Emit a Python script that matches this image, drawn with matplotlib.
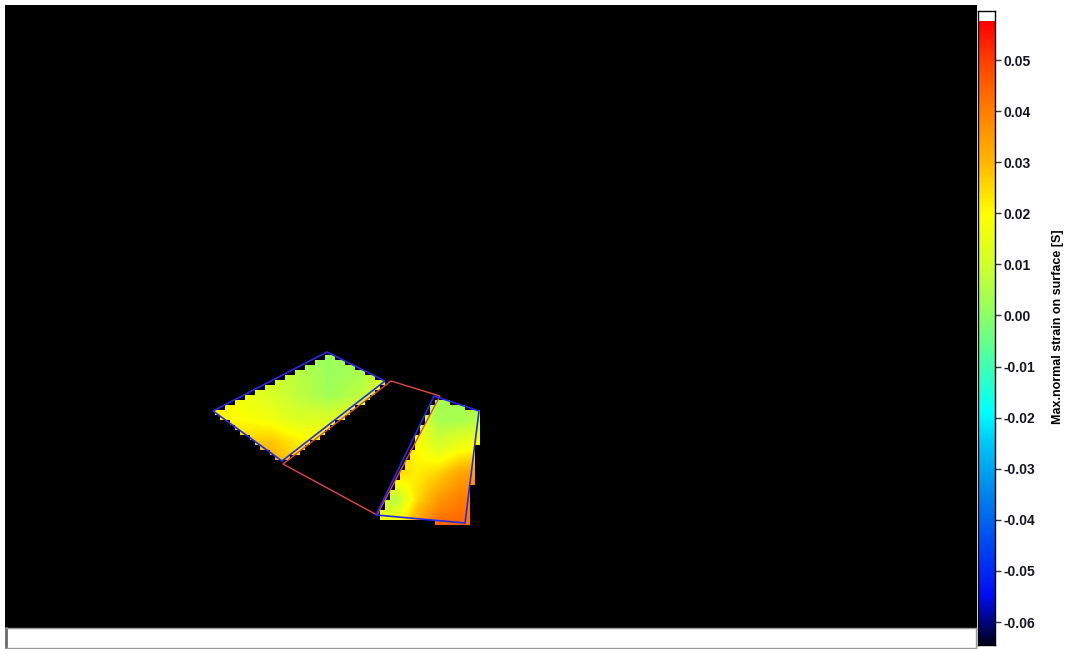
import numpy as np
import matplotlib
matplotlib.use("Agg")
import matplotlib.pyplot as plt
from matplotlib.colors import LinearSegmentedColormap, Normalize
from matplotlib.path import Path
from matplotlib.patches import Polygon

plt.rcParams['font.family'] = ['Liberation Sans', 'DejaVu Sans']

W, H = 1066, 649

# strain scale of the colour bar
vmin, vmax = -0.0645, 0.0576
bar_top = 0.0596
tick_values = [0.05, 0.04, 0.03, 0.02, 0.01, 0.00, -0.01, -0.02, -0.03, -0.04, -0.05, -0.06]
bar_label = "Max.normal strain on surface [S]"

# plate outlines (screen units, y downwards)
plate1 = [(213, 411), (327, 352), (385, 381), (282, 461)]
plate2 = [(434, 396), (479, 411), (465, 523), (376, 515)]
gap = [(283, 464), (391, 381), (440, 396), (377, 515)]

# strain sampled on plate 1, rows top -> bottom
p1_x = [210, 240, 270, 300, 330, 360, 390]
p1_y = [350, 373, 396, 419, 442, 465]
p1_strain = [
    [0.015, 0.010, 0.006, 0.003, 0.002, 0.004, 0.008],
    [0.018, 0.014, 0.010, 0.006, 0.002, 0.004, 0.012],
    [0.020, 0.017, 0.012, 0.007, 0.003, 0.007, 0.016],
    [0.022, 0.020, 0.017, 0.012, 0.012, 0.017, 0.020],
    [0.025, 0.026, 0.028, 0.022, 0.020, 0.020, 0.020],
    [0.028, 0.030, 0.033, 0.025, 0.020, 0.020, 0.020],
]

# strain sampled on plate 2
p2_x = [375, 396, 417, 438, 459, 480]
p2_y = [395, 421, 447, 473, 499, 525]
p2_strain = [
    [0.010, 0.008, 0.006, 0.004, 0.003, 0.004],
    [0.020, 0.020, 0.015, 0.004, 0.004, 0.007],
    [0.025, 0.025, 0.020, 0.012, 0.017, 0.020],
    [0.020, 0.026, 0.022, 0.026, 0.033, 0.035],
    [0.010, 0.006, 0.025, 0.035, 0.040, 0.040],
    [0.018, 0.020, 0.035, 0.044, 0.044, 0.040],
]

# colour map anchors (strain value, rgb)
anchors = [
    (-0.0645, (0.00, 0.00, 0.12)),
    (-0.055, (0.00, 0.05, 0.95)),
    (-0.045, (0.00, 0.28, 0.95)),
    (-0.035, (0.00, 0.52, 0.92)),
    (-0.025, (0.00, 0.78, 0.97)),
    (-0.019, (0.00, 1.00, 1.00)),
    (-0.010, (0.25, 1.00, 0.70)),
    (0.000, (0.55, 1.00, 0.40)),
    (0.010, (0.82, 1.00, 0.18)),
    (0.020, (1.00, 1.00, 0.00)),
    (0.030, (1.00, 0.72, 0.00)),
    (0.040, (1.00, 0.50, 0.00)),
    (0.050, (1.00, 0.25, 0.00)),
    (0.0576, (1.00, 0.00, 0.00)),
]
cmap = LinearSegmentedColormap.from_list(
    "strain", [((v - vmin) / (vmax - vmin), c) for v, c in anchors])
norm = Normalize(vmin, vmax)

fig = plt.figure(figsize=(W / 100, H / 100), dpi=100)
fig.patch.set_facecolor("white")

ax = fig.add_axes([5 / W, (H - 628) / H, 972 / W, 623 / H])
ax.set_facecolor("black")
ax.set_xticks([])
ax.set_yticks([])
for s in ax.spines.values():
    s.set_visible(False)


def draw_field(xs, ys, vals, outline):
    xs = np.array(xs, float)
    ys = np.array(ys, float)
    dx = xs[1] - xs[0]
    dy = ys[1] - ys[0]
    im = ax.imshow(np.array(vals), cmap=cmap, norm=norm, origin="upper",
                   interpolation="bilinear", aspect="auto", zorder=1,
                   extent=(xs[0] - dx / 2, xs[-1] + dx / 2, ys[-1] + dy / 2, ys[0] - dy / 2))
    # clip a little outside the outline so the cell steps can poke through
    pts = np.array(outline, float)
    c = pts.mean(axis=0)
    clip = Polygon(c + (pts - c) * 1.25, closed=True, transform=ax.transData)
    im.set_clip_path(clip)


draw_field(p1_x, p1_y, p1_strain, plate1)
draw_field(p2_x, p2_y, p2_strain, plate2)

# coarse screen cells: keep a cell when its top-left corner lies inside a plate
cell = 5
gx = np.arange(0, 980, cell)
gy = np.arange(0, 630, cell)
X, Y = np.meshgrid(gx, gy)
inside = np.zeros(X.shape, bool)
for poly in (plate1, plate2):
    p = Path(poly)
    inside |= p.contains_points(np.c_[X.ravel(), Y.ravel()]).reshape(X.shape)
mask = np.zeros(X.shape + (4,))
mask[..., 3] = (~inside).astype(float)
ax.imshow(mask, origin="upper", interpolation="nearest", aspect="auto", zorder=2,
          extent=(0, gx[-1] + cell, gy[-1] + cell, 0))

ax.add_patch(Polygon(gap, closed=True, fill=False, edgecolor="#e04848", lw=1.0, zorder=3))
ax.add_patch(Polygon(plate1, closed=True, fill=False, edgecolor="#2a2ae6", lw=1.2, zorder=4))
ax.add_patch(Polygon(plate2, closed=True, fill=False, edgecolor="#2a2ae6", lw=1.2, zorder=4))

ax.set_xlim(5, 977)
ax.set_ylim(628, 5)

# empty strip under the view
strip = fig.add_axes([6 / W, (H - 648) / H, 970 / W, 20 / H])
strip.set_facecolor("white")
strip.set_xticks([])
strip.set_yticks([])
for name, s in strip.spines.items():
    s.set_color("#9a9a9a")
    s.set_linewidth(1.0)
strip.spines["left"].set_color("#6a6a6a")
strip.spines["left"].set_linewidth(2.0)

# colour bar
cax = fig.add_axes([978 / W, (H - 645) / H, 17 / W, 634 / H])
cax.set_facecolor("white")
grad = np.linspace(vmin, vmax, 512)[:, None]
cax.imshow(grad, cmap=cmap, norm=norm, origin="lower", aspect="auto",
           extent=(0, 1, vmin, vmax))
cax.set_xlim(0, 1)
cax.set_ylim(vmin, bar_top)
cax.set_xticks([])
cax.yaxis.tick_right()
cax.set_yticks(tick_values)
cax.set_yticklabels(["%.2f" % v for v in tick_values], fontsize=10, fontweight="bold",
                    color="#151520")
cax.tick_params(axis="y", length=4, width=1, pad=2, color="#333333")
for s in cax.spines.values():
    s.set_color("black")
    s.set_linewidth(1.0)

fig.text(1058 / W, 1 - 327 / H, bar_label, rotation=90, ha="center", va="center",
         fontsize=9, fontweight="bold", color="black")

fig.savefig("out.png", dpi=100)
